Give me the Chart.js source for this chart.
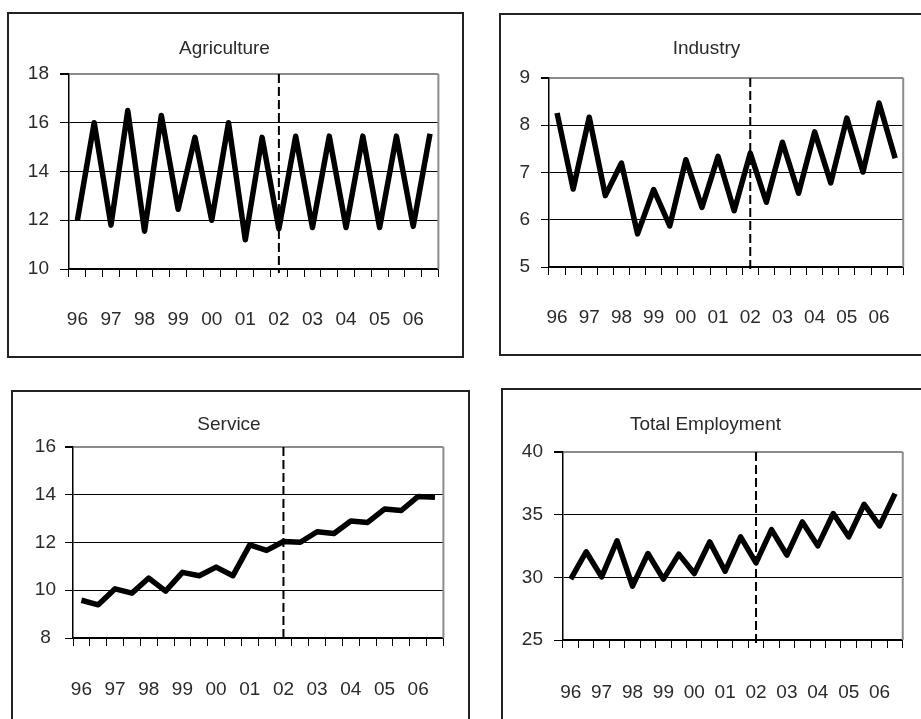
<!DOCTYPE html>
<html>
<head>
<meta charset="utf-8">
<script src="https://cdn.jsdelivr.net/npm/chart.js@4"></script>
<style>
  body { margin: 0; background: #fff; width: 921px; height: 719px; overflow: hidden; position: relative; }
  .panel { position: absolute; border: 2px solid #222; box-sizing: border-box; background: #fff; overflow: hidden; }
  .panel canvas { display: block; }
</style>
</head>
<body>
<div class="panel" style="left:7px;top:12px;width:457px;height:346px"><canvas id="agri" width="453" height="342"></canvas></div>
<div class="panel" style="left:499px;top:13px;width:430px;height:343px"><canvas id="indu" width="426" height="339"></canvas></div>
<div class="panel" style="left:11px;top:390px;width:459px;height:340px"><canvas id="serv" width="455" height="336"></canvas></div>
<div class="panel" style="left:501px;top:388px;width:430px;height:340px"><canvas id="total" width="426" height="336"></canvas></div>
<script>
// years on the axis, two observations per year
var years = ['96', '97', '98', '99', '00', '01', '02', '03', '04', '05', '06'];
var splitYear = '02';

var agriculture = [12.0, 16.0, 11.8, 16.5, 11.55, 16.3, 12.45, 15.4, 12.0, 16.0, 11.2, 15.4,
    11.65, 15.45, 11.7, 15.45, 11.7, 15.45, 11.7, 15.45, 11.75, 15.55];
var industry = [8.26, 6.65, 8.17, 6.51, 7.2, 5.7, 6.64, 5.87, 7.27, 6.26, 7.34, 6.19,
    7.41, 6.37, 7.64, 6.56, 7.86, 6.78, 8.15, 7.01, 8.47, 7.3];
var service = [9.58, 9.39, 10.06, 9.88, 10.51, 9.96, 10.75, 10.61, 10.97, 10.61, 11.9, 11.67,
    12.04, 12.01, 12.45, 12.38, 12.9, 12.84, 13.4, 13.34, 13.93, 13.89];
var totalEmployment = [29.86, 32.04, 30.04, 32.92, 29.3, 31.9, 29.86, 31.85, 30.3, 32.83, 30.49, 33.23,
    31.16, 33.81, 31.77, 34.42, 32.51, 35.09, 33.23, 35.83, 34.1, 36.68];

var periods = [];
years.forEach(function (y) { periods.push(y); periods.push(y); });
var splitIndex = periods.indexOf(splitYear);

var fontFam = '"Liberation Sans", Arial, sans-serif';
var textColor = '#2a2a2a';

// dashed line at 02 + grey right edge of the plot
var markers = {
    id: 'markers',
    beforeDatasetsDraw: function (chart) {
        var a = chart.chartArea;
        var c = chart.ctx;
        var x = chart.scales.x.getPixelForValue(splitIndex);
        c.save();
        c.strokeStyle = '#8c8c8c';
        c.lineWidth = 2;
        c.beginPath();
        c.moveTo(a.right, a.top);
        c.lineTo(a.right, a.bottom);
        c.stroke();
        c.strokeStyle = '#000';
        c.lineWidth = 2;
        c.setLineDash([9, 4]);
        c.beginPath();
        c.moveTo(x, a.top);
        c.lineTo(x, a.bottom + 4);
        c.stroke();
        c.restore();
    }
};

function makePanel(id, title, values, yMin, yMax, yStep, o) {
    var ctx = document.getElementById(id).getContext('2d');
    return new Chart(ctx, {
        type: 'line',
        data: {
            labels: periods,
            datasets: [{
                label: title,
                data: values,
                borderColor: '#000',
                borderWidth: 5.5,
                borderJoinStyle: 'round',
                pointRadius: 0,
                tension: 0,
                fill: false
            }]
        },
        options: {
            responsive: false,
            animation: false,
            layout: { padding: { left: 0, right: o.padRight, top: 0, bottom: 0 } },
            plugins: {
                legend: { display: false },
                tooltip: { enabled: false },
                title: {
                    display: true,
                    text: title,
                    color: textColor,
                    font: { family: fontFam, size: 19, weight: 'normal', lineHeight: 1.2 },
                    padding: { top: o.titleTop, bottom: o.titleBottom }
                }
            },
            scales: {
                x: {
                    offset: true,
                    grid: { offset: true, drawOnChartArea: false, tickLength: 8, color: '#000', lineWidth: 1 },
                    border: { color: '#000', width: 1.5 },
                    ticks: {
                        autoSkip: false,
                        maxRotation: 0,
                        padding: o.xPad,
                        color: textColor,
                        font: { family: fontFam, size: 19, lineHeight: 1.2 },
                        callback: function (val, i) { return i % 2 === 0 ? this.getLabelForValue(val) : ''; }
                    },
                    afterFit: function (s) { s.height = o.xHeight; }
                },
                y: {
                    min: yMin,
                    max: yMax,
                    grid: {
                        color: function (c) { return c.tick && c.tick.value === yMax ? '#8c8c8c' : '#000'; },
                        lineWidth: function (c) { return c.tick && c.tick.value === yMax ? 2 : 1; },
                        tickColor: '#000',
                        tickLength: o.yTick
                    },
                    border: { color: '#000', width: 1.5 },
                    ticks: {
                        stepSize: yStep,
                        padding: o.yPad,
                        crossAlign: 'center',
                        color: textColor,
                        font: { family: fontFam, size: 19 }
                    },
                    afterFit: function (s) { s.width = o.yWidth; }
                }
            }
        },
        plugins: [markers]
    });
}

makePanel('agri', 'Agriculture', agriculture, 10, 18, 2,
    { padRight: 22, titleTop: 23.6, titleBottom: 13.6, xHeight: 87, xPad: 31.5, yWidth: 60, yTick: 9, yPad: 11 });
makePanel('indu', 'Industry', industry, 5, 9, 1,
    { padRight: 15, titleTop: 22.6, titleBottom: 17.6, xHeight: 87, xPad: 31.5, yWidth: 48, yTick: 8, yPad: 11 });
makePanel('serv', 'Service', service, 8, 16, 2,
    { padRight: 23, titleTop: 21.6, titleBottom: 10.6, xHeight: 90, xPad: 32.5, yWidth: 60, yTick: 8, yPad: 9 });
makePanel('total', 'Total Employment', totalEmployment, 25, 40, 5,
    { padRight: 21, titleTop: 23.6, titleBottom: 15.6, xHeight: 86, xPad: 33.5, yWidth: 60, yTick: 9, yPad: 11 });
</script>
</body>
</html>
